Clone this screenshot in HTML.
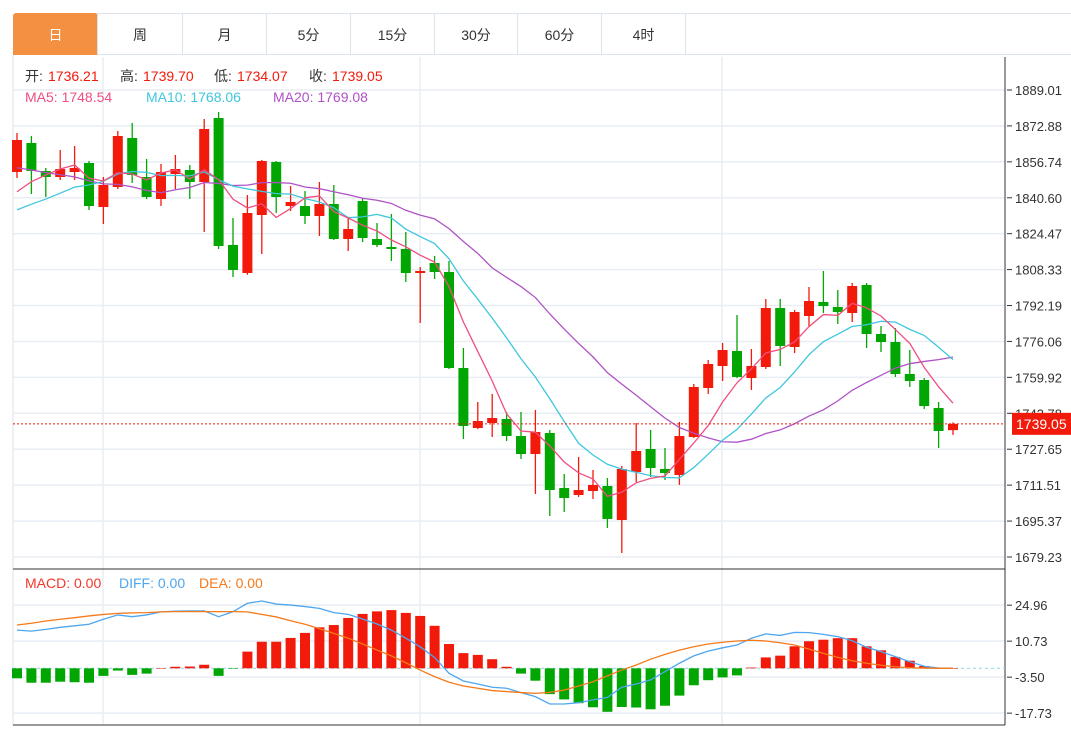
<!DOCTYPE html>
<html><head><meta charset="utf-8"><style>
body{margin:0;background:#fff;font-family:"Liberation Sans","Noto Sans CJK SC",sans-serif;}
#wrap{position:relative;width:1071px;height:732px;overflow:hidden;}
.tab{position:absolute;top:13px;height:42px;line-height:42px;text-align:center;font-size:14px;color:#333;border:1px solid #dde3ea;box-sizing:border-box;background:#fff;}
.tab.on{background:#f39041;color:#fff;border-color:#f39041;border-radius:3px 3px 0 0;}
svg{position:absolute;left:0;top:0;}
</style></head><body>
<div id="wrap">
<div class="tab on" style="left:13px;width:85px">日</div>
<div class="tab" style="left:97px;width:86px">周</div>
<div class="tab" style="left:182px;width:85px">月</div>
<div class="tab" style="left:266px;width:85px">5分</div>
<div class="tab" style="left:350px;width:85px">15分</div>
<div class="tab" style="left:434px;width:84px">30分</div>
<div class="tab" style="left:517px;width:85px">60分</div>
<div class="tab" style="left:601px;width:85px">4时</div>
<div class="tab" style="left:685px;width:386px;border-right:none"></div>
<svg id="chart" width="1071" height="732"></svg>
</div>
<script>
const priorCloses=[1873,1873,1873,1873,1873,1873,1873,1873,1873,1873,1827,1827,1827,1827,1827,1830,1835,1840,1845];
const opens=[1852.18,1865.20,1852.63,1849.93,1852.18,1856.22,1836.46,1845.44,1867.45,1849.93,1840.05,1851.28,1853.08,1847.69,1876.44,1819.39,1806.81,1832.86,1856.67,1836.90,1836.90,1832.41,1837.80,1822.08,1839.15,1822.08,1818.49,1817.59,1806.81,1811.30,1807.26,1764.13,1737.18,1739.43,1741.23,1733.59,1725.50,1734.94,1710.23,1707.09,1708.88,1711.13,1695.86,1717.42,1727.75,1718.77,1716.07,1733.14,1755.15,1765.03,1771.77,1759.64,1764.58,1791.09,1773.57,1787.49,1793.78,1791.54,1788.84,1801.42,1779.41,1775.81,1761.44,1758.74,1746.17,1736.21];
const highs=[1869.70,1868.35,1853.97,1862.06,1863.86,1857.12,1849.93,1870.59,1874.19,1858.02,1855.77,1859.81,1855.32,1875.99,1879.13,1831.51,1841.85,1857.60,1857.12,1845.89,1843.64,1847.69,1846.34,1831.51,1840.50,1829.27,1833.31,1825.23,1809.50,1814.44,1812.20,1773.12,1748.86,1752.46,1744.37,1744.37,1745.27,1736.28,1716.52,1724.16,1718.32,1714.72,1720.11,1739.43,1736.28,1728.20,1739.88,1756.95,1767.73,1775.36,1787.94,1772.67,1795.13,1795.13,1790.19,1800.52,1807.71,1799.17,1802.32,1802.32,1783.00,1782.10,1772.22,1759.64,1748.86,1739.70];
const lows=[1849.48,1842.30,1840.95,1848.58,1848.58,1835.11,1828.82,1844.54,1847.24,1840.00,1836.90,1844.54,1840.05,1825.23,1817.59,1805.01,1806.00,1815.34,1833.76,1834.66,1828.82,1823.43,1821.60,1816.69,1820.73,1818.49,1812.20,1802.77,1784.35,1804.11,1763.70,1732.24,1736.70,1733.14,1731.34,1723.26,1707.54,1697.65,1699.45,1706.20,1705.29,1692.26,1681.03,1712.93,1715.17,1713.82,1711.58,1732.70,1752.46,1758.29,1759.60,1754.25,1763.69,1765.03,1770.87,1783.00,1788.84,1783.90,1784.80,1773.12,1771.32,1760.09,1755.60,1745.72,1728.20,1734.07];
const closes=[1866.55,1852.63,1849.93,1853.53,1853.98,1836.90,1846.34,1868.35,1850.83,1840.95,1852.18,1853.53,1847.69,1871.49,1818.94,1808.16,1833.76,1857.12,1840.95,1838.70,1832.41,1837.80,1822.08,1826.57,1822.53,1819.39,1817.59,1806.81,1807.71,1807.26,1764.13,1738.08,1740.33,1741.67,1733.59,1725.50,1735.39,1709.33,1705.74,1709.33,1711.58,1696.31,1718.77,1726.85,1719.21,1716.97,1733.59,1755.60,1765.93,1772.22,1760.09,1765.03,1791.09,1774.02,1789.29,1794.23,1791.98,1789.29,1800.97,1779.41,1775.81,1761.44,1758.29,1747.06,1735.83,1739.05];
const macdHist=[-3.95,-5.7,-5.7,-5.3,-5.5,-5.7,-3.0,-0.9,-2.6,-2.1,0.1,0.6,0.7,1.4,-3.0,-0.1,6.6,10.5,10.5,12.0,14.0,16.2,17.1,19.9,21.5,22.5,23.0,21.9,20.7,16.8,9.6,6.0,5.3,3.6,0.6,-2.1,-4.9,-10.2,-12.3,-13.8,-15.4,-17.2,-15.3,-15.5,-16.2,-14.8,-10.8,-6.7,-4.7,-3.6,-2.8,0.3,4.3,5.0,8.7,10.7,11.3,11.9,11.9,8.7,7.1,4.5,3.0,0.9,0.1,0];
const diffVals=[15.1,14.7,15.4,16.2,16.8,17.4,19.4,21.1,20.4,21.1,22.3,22.6,22.7,22.7,20.4,22.4,25.7,26.6,25.4,25.0,24.4,23.7,22.0,21.3,19.5,17.5,15.1,11.9,8.5,4.3,-2.0,-5.0,-6.2,-7.5,-7.9,-9.6,-11.2,-14.1,-14.1,-13.6,-12.5,-11.5,-7.5,-6.2,-4.6,-1.3,2.0,4.9,6.8,8.1,9.2,11.9,13.6,13.0,14.2,14.1,13.4,12.5,10.9,8.3,6.6,4.6,2.6,0.8,0.1,0];
const deaVals=[17.1,17.8,18.7,19.4,20.0,20.7,21.3,21.7,21.9,22.0,22.3,22.4,22.4,22.4,22.4,22.4,22.3,21.3,20.3,18.8,17.4,15.7,13.8,11.9,9.6,7.2,4.9,2.2,-0.7,-3.3,-5.5,-7.0,-7.9,-8.8,-9.2,-9.6,-9.9,-9.5,-8.6,-7.0,-5.3,-3.0,-0.7,1.3,3.6,5.5,7.2,8.5,9.6,10.3,10.8,11.1,10.8,10.1,9.2,7.6,5.9,4.3,3.0,2.0,1.2,0.6,0.2,0.1,0,0];
const priceTicks=["1889.01","1872.88","1856.74","1840.60","1824.47","1808.33","1792.19","1776.06","1759.92","1743.78","1727.65","1711.51","1695.37","1679.23"];
const macdTicks=["24.96","10.73","-3.50","-17.73"];

const NS="http://www.w3.org/2000/svg";
const svg=document.getElementById('chart');
const RED="#f21a0a",GREEN="#02a602";
const xAt=i=>17+i*14.4;
const yP=p=>90+(1889.01-p)/0.44921;
const yM=v=>668.3-v/0.3953;
function mk(tag,attrs,parent){const e=document.createElementNS(NS,tag);for(const k in attrs)e.setAttribute(k,attrs[k]);(parent||svg).appendChild(e);return e;}

// frame & grid
const grid=mk('g',{});


priceTicks.forEach(t=>{const y=yP(parseFloat(t));mk('line',{x1:13,x2:1005,y1:y,y2:y,stroke:"#e8eef4","stroke-width":1.5},grid);});
macdTicks.forEach(t=>{const y=yM(parseFloat(t));mk('line',{x1:13,x2:1005,y1:y,y2:y,stroke:"#e8eef4","stroke-width":1.5},grid);});
[103,420,722].forEach(x=>{mk('line',{x1:x,x2:x,y1:57,y2:725,stroke:"#e8eef4","stroke-width":1.5},grid);});
mk('line',{x1:13,x2:13,y1:55,y2:725,stroke:"#dde3ea"},grid);
mk('line',{x1:13,x2:1005,y1:569,y2:569,stroke:"#333","stroke-width":1},grid);
mk('line',{x1:13,x2:1005,y1:725,y2:725,stroke:"#333","stroke-width":1},grid);
mk('line',{x1:1005,x2:1005,y1:57,y2:725,stroke:"#333","stroke-width":1},grid);

// y axis
const ax=mk('g',{"font-size":13,fill:"#333","font-family":"Liberation Sans, sans-serif"});


priceTicks.forEach(t=>{const y=yP(parseFloat(t));mk('line',{x1:1007,x2:1012,y1:y,y2:y,stroke:"#333"},ax);const tx=mk('text',{x:1015,y:y+5},ax);tx.textContent=t;});
const ax2=mk('g',{"font-size":13,fill:"#333","font-family":"Liberation Sans, sans-serif"});


macdTicks.forEach(t=>{const y=yM(parseFloat(t));mk('line',{x1:1007,x2:1012,y1:y,y2:y,stroke:"#333"},ax2);const tx=mk('text',{x:1015,y:y+5},ax2);tx.textContent=t;});

// candles
const cg=mk('g',{});


opens.forEach((o,i)=>{
  const c=closes[i],col=c>=o?RED:GREEN,x=xAt(i);
  const g=mk('g',{},cg);
  
  
  mk('line',{x1:x,x2:x,y1:yP(highs[i]),y2:yP(lows[i]),stroke:col,"stroke-width":1.3},g);
  const top=yP(Math.max(o,c)),bot=yP(Math.min(o,c));
  mk('rect',{x:x-5,y:top,width:10,height:Math.max(bot-top,1.5),fill:col},g);
});

// MAs
const all=priorCloses.concat(closes);
function ma(n){return closes.map((_,i)=>{const j=i+priorCloses.length;let s=0,k=0;for(let m=Math.max(0,j-n+1);m<=j;m++){s+=all[m];k++;}return s/k;});}
function poly(vals,yf,col,name,w){const p=mk('polyline',{points:vals.map((v,i)=>xAt(i)+","+yf(v)).join(" "),fill:"none",stroke:col,"stroke-width":w||1.3});}
poly(ma(20),yP,"#b052c6","ma20-line");
poly(ma(10),yP,"#3fc6dd","ma10-line");
poly(ma(5),yP,"#ef4f80","ma5-line");

// last price
const ly=yP(closes[closes.length-1]);
const pl=mk('line',{x1:13,x2:1005,y1:ly,y2:ly,stroke:RED,"stroke-dasharray":"2,2"});


const pb=mk('rect',{x:1012,y:ly-11,width:59,height:22,fill:RED});


const pt=mk('text',{x:1016,y:ly+5,fill:"#fff","font-size":14,"font-family":"Liberation Sans, sans-serif"});
pt.textContent=closes[closes.length-1].toFixed(2);

// MACD
const zl=mk('line',{x1:13,x2:1005,y1:yM(0),y2:yM(0),stroke:"#8fd3ea","stroke-dasharray":"3,3"});


const mg=mk('g',{});


macdHist.forEach((v,i)=>{const y0=yM(0),y1=yM(v);const r=mk('rect',{x:xAt(i)-5,y:Math.min(y0,y1),width:10,height:Math.max(Math.abs(y1-y0),0.5),fill:v>=0?RED:GREEN},mg);});
poly(diffVals,yM,"#4ea6f0","diff-line");
poly(deaVals,yM,"#f57a1a","dea-line");

// legends
function txt(x,y,s,col,name){const t=mk('text',{x:x,y:y,fill:col,"font-size":14,"font-family":"Liberation Sans, Noto Sans CJK SC, sans-serif"});t.textContent=s;return t;}
txt(25,81,"开:","#333","open-label");txt(48,81,"1736.21",RED,"open-value");
txt(120,81,"高:","#333","high-label");txt(143,81,"1739.70",RED,"high-value");
txt(214,81,"低:","#333","low-label");txt(237,81,"1734.07",RED,"low-value");
txt(309,81,"收:","#333","close-label");txt(332,81,"1739.05",RED,"close-value");
txt(25,102,"MA5: 1748.54","#ef4f80","ma5-legend");
txt(146,102,"MA10: 1768.06","#3fc6dd","ma10-legend");
txt(273,102,"MA20: 1769.08","#b052c6","ma20-legend");
txt(25,588,"MACD: 0.00","#f2372a","macd-legend");
txt(119,588,"DIFF: 0.00","#4ea6f0","diff-legend");
txt(199,588,"DEA: 0.00","#f57a1a","dea-legend");
</script>
</body></html>
